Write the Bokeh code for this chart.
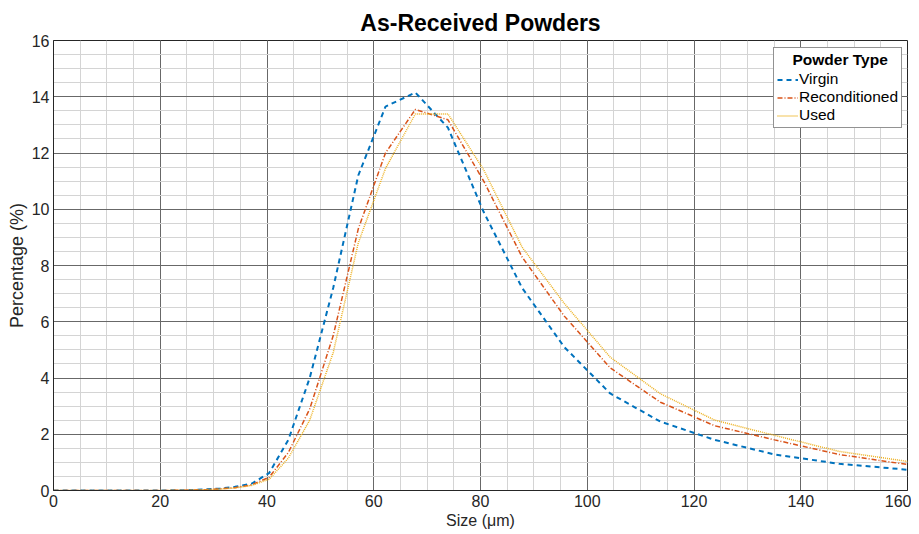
from bokeh.plotting import figure
from bokeh.models import SingleIntervalTicker, Legend, LegendItem, Range1d
from bokeh.embed import file_html
from bokeh.resources import INLINE

# ---- data ----
size_um = [0, 5, 10, 15, 20, 22.1, 24.1, 26.3, 28.6, 31.2, 34.0, 37.1, 40.4, 44.0,
           48.0, 52.4, 57.1, 62.2, 67.8, 73.9, 80.6, 87.8, 95.7, 104.3, 113.7,
           123.9, 135.1, 147.2, 160.5]
virgin = [0, 0, 0, 0, 0, 0.005, 0.01, 0.02, 0.04, 0.07, 0.13, 0.24, 0.62, 1.8,
          4.0, 7.2, 11.2, 13.65, 14.15, 12.9, 9.9, 7.2, 5.1, 3.45, 2.45,
          1.8, 1.28, 0.95, 0.73]
reconditioned = [0, 0, 0, 0, 0, 0.005, 0.01, 0.02, 0.03, 0.06, 0.1, 0.2, 0.47, 1.35,
                 2.9, 5.5, 9.3, 12.0, 13.55, 13.18, 11.0, 8.3, 6.2, 4.36, 3.14,
                 2.3, 1.8, 1.28, 0.91]
used = [0, 0, 0, 0, 0, 0.005, 0.01, 0.015, 0.03, 0.05, 0.09, 0.18, 0.4, 1.15,
        2.5, 4.9, 8.8, 11.45, 13.39, 13.39, 11.4, 8.65, 6.65, 4.74, 3.44,
        2.5, 1.96, 1.39, 1.02]
series_names = ["Virgin", "Reconditioned", "Used"]

FONT = "Liberation Sans"
TXT = "#262626"

p = figure(width=911, height=534, output_backend="svg", toolbar_location=None,
           x_range=Range1d(0, 160), y_range=Range1d(0, 16),
           min_border_left=53, min_border_right=4, min_border_top=40,
           min_border_bottom=44)

p.title.text = "As-Received Powders"
p.title.text_font = FONT
p.title.text_font_size = "23px"
p.title.text_font_style = "bold"
p.title.text_color = "#000000"
p.title.align = "center"
p.title.standoff = 9

p.xaxis.ticker = SingleIntervalTicker(interval=20, num_minor_ticks=4)
p.yaxis.ticker = SingleIntervalTicker(interval=2, num_minor_ticks=4)
p.xaxis.axis_label = "Size (μm)"
p.yaxis.axis_label = "Percentage (%)"
for ax in (p.xaxis[0], p.yaxis[0]):
    ax.axis_label_text_font = FONT
    ax.axis_label_text_font_style = "normal"
    ax.axis_label_text_color = TXT
    ax.major_label_text_font = FONT
    ax.major_label_text_font_size = "16px"
    ax.major_label_text_color = TXT
    ax.major_tick_out = 0
    ax.major_tick_in = 0
    ax.minor_tick_out = 0
    ax.minor_tick_in = 0
    ax.axis_line_color = TXT
    ax.major_label_standoff = 4
    ax.axis_label_standoff = 2
p.xaxis[0].axis_label_text_font_size = "16px"
p.yaxis[0].axis_label_text_font_size = "18px"

p.grid.grid_line_color = "#555555"
p.grid.grid_line_alpha = 0.85
p.grid.minor_grid_line_color = "#d4d4d4"
p.outline_line_color = TXT
p.background_fill_color = "white"
p.border_fill_color = "white"

r1 = p.line(size_um, virgin, line_color="#0072BD", line_width=2, line_dash="5 4")
r2 = p.line(size_um, reconditioned, line_color="#D95319", line_width=1.5, line_dash="5 2 1 2")
r3 = p.line(size_um, used, line_color="#EDB120", line_width=1.5, line_dash="1 1")

legend = Legend(items=[LegendItem(label=series_names[0], renderers=[r1]),
                       LegendItem(label=series_names[1], renderers=[r2]),
                       LegendItem(label=series_names[2], renderers=[r3])],
                location=(720, 362))
legend.title = "\u2002\u2002Powder Type"
legend.title_text_font = FONT
legend.title_text_font_size = "15.5px"
legend.title_text_font_style = "bold"
legend.title_text_color = "#000000"
legend.title_standoff = 1
legend.label_text_font = FONT
legend.label_text_font_size = "15.5px"
legend.label_text_color = "#000000"
legend.glyph_width = 21
legend.glyph_height = 17
legend.label_height = 17
legend.label_standoff = 1
legend.spacing = 0
legend.padding = 3
legend.margin = 0
legend.border_line_color = TXT
legend.border_line_width = 1
legend.background_fill_alpha = 1
p.add_layout(legend)

open("out.html", "w").write(file_html(p, INLINE))
